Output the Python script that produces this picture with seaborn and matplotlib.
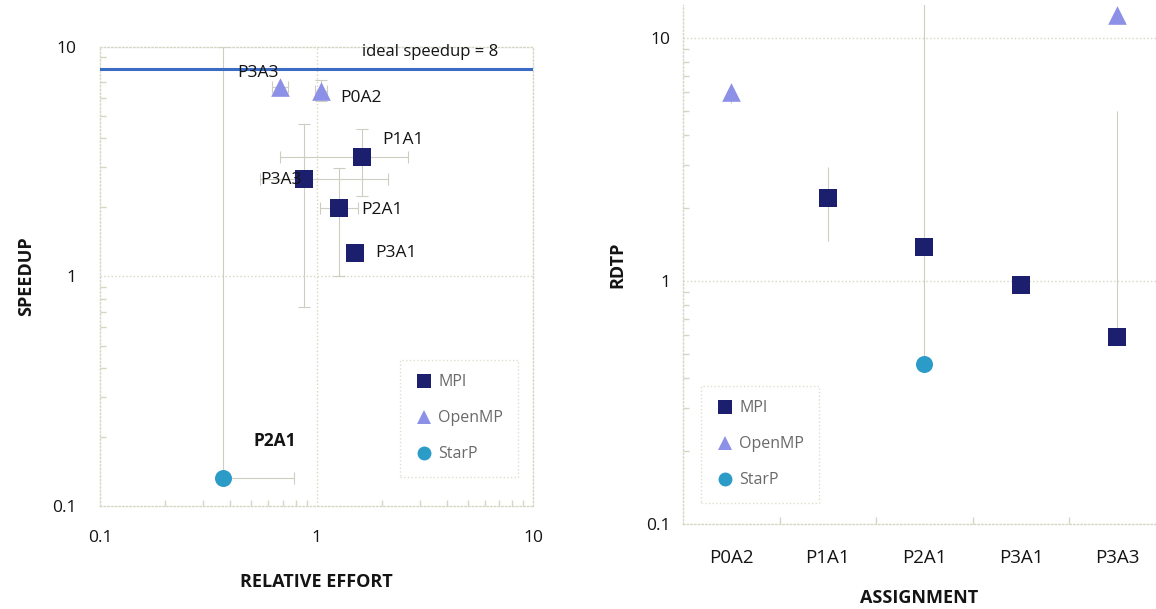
import numpy as np
import pandas as pd
import matplotlib
matplotlib.use("Agg")
import matplotlib.pyplot as plt
from matplotlib.lines import Line2D
from matplotlib.ticker import LogLocator, NullFormatter, FixedLocator, FixedFormatter
import seaborn as sns

sns.set_theme(style="white")
plt.rcParams['font.family'] = ['Open Sans', 'DejaVu Sans']

# ---- Speedup vs. relative effort -------------------------------------------
eff_labels = ["P0A2", "P3A3", "P1A1", "P3A3", "P2A1", "P3A1", "P2A1"]
eff_models = ["OpenMP", "OpenMP", "MPI", "MPI", "MPI", "MPI", "StarP"]
effort     = [1.05, 0.68, 1.62, 0.88, 1.27, 1.50, 0.37]
speedup    = [6.4, 6.7, 3.33, 2.67, 1.98, 1.27, 0.132]
effort_lo  = [0.98, 0.62, 0.68, 0.55, 1.04, 1.50, 0.37]
effort_hi  = [1.12, 0.74, 2.65, 2.14, 1.55, 1.50, 0.79]
speedup_lo = [5.8, 6.7, 2.25, 0.74, 1.00, 1.27, 0.132]
speedup_hi = [7.2, 6.7, 4.40, 4.60, 2.98, 1.27, 10.0]
ideal_speedup = 8

# ---- RDTP by assignment ------------------------------------------------------
assignments = ["P0A2", "P1A1", "P2A1", "P3A1", "P3A3"]
rdtp_assign = ["P0A2", "P1A1", "P2A1", "P3A1", "P3A3", "P2A1", "P3A3"]
rdtp_models = ["OpenMP", "MPI", "MPI", "MPI", "MPI", "StarP", "OpenMP"]
rdtp        = [6.0, 2.2, 1.38, 0.96, 0.59, 0.455, 12.5]
rdtp_lo     = [5.4, 1.46, 1.38, 0.96, 0.59, 0.455, 12.5]
rdtp_hi     = [6.0, 2.94, 1.38, 0.96, 5.0, 20.0, 12.5]

models = ["MPI", "OpenMP", "StarP"]
palette = {"MPI": "#1c1f6e", "OpenMP": "#8c90e6", "StarP": "#2b9bc8"}
markers = {"MPI": "s", "OpenMP": "^", "StarP": "o"}
sizes = {"MPI": 180, "OpenMP": 180, "StarP": 150}

grid_c = "#d6d6c4"
err_c = "#cdcdc2"
text_c = "#141414"

fig = plt.figure(figsize=(11.56, 6.09), dpi=100)
ax1 = fig.add_axes([0.0865, 0.169, 0.3746, 0.754])
ax2 = fig.add_axes([0.591, 0.1396, 0.409, 0.852])

left = pd.DataFrame({"label": eff_labels, "model": eff_models,
                     "effort": effort, "speedup": speedup})
right = pd.DataFrame({"assignment": pd.Categorical(rdtp_assign, categories=assignments),
                      "model": rdtp_models, "rdtp": rdtp})
right["pos"] = right["assignment"].cat.codes


def style_axis(ax):
    for s in ax.spines.values():
        s.set_color(grid_c)
        s.set_linestyle(":")
        s.set_linewidth(1.0)
    ax.tick_params(axis="both", which="both", colors=grid_c, labelcolor=text_c,
                   labelsize=12.5)
    ax.tick_params(axis="y", which="minor", direction="in", length=4, left=True)
    ax.tick_params(axis="y", which="major", direction="in", length=0, left=True, pad=9)


def draw_model_points(ax, data, x, y):
    for m in models:
        sub = data[data["model"] == m]
        sns.scatterplot(data=sub, x=x, y=y, ax=ax, color=palette[m],
                        marker=markers[m], s=sizes[m], linewidth=0,
                        legend=False, zorder=4)


def add_legend(ax, anchor):
    handles = [Line2D([], [], linestyle="none", marker=markers[m], markersize=10,
                      markerfacecolor=palette[m], markeredgewidth=0)
               for m in models]
    leg = ax.legend(handles, models, loc="upper left", bbox_to_anchor=anchor,
                    frameon=True, fontsize=11.5, labelspacing=1.25,
                    handletextpad=0.3, handlelength=1.2, borderpad=0.9,
                    fancybox=False, borderaxespad=0)
    leg.get_frame().set_edgecolor(grid_c)
    leg.get_frame().set_linestyle(":")
    leg.get_frame().set_linewidth(1.0)
    for t in leg.get_texts():
        t.set_color("#6a6a6a")


# ---- left panel --------------------------------------------------------------
ax = ax1
ax.set_xscale("log")
ax.set_yscale("log")
ax.set_xlim(0.1, 10)
ax.set_ylim(0.1, 10)
ax.axvline(1, color=grid_c, ls=":", lw=1.0, zorder=0)
ax.axhline(1, color=grid_c, ls=":", lw=1.0, zorder=0)

xerr = [np.array(effort) - np.array(effort_lo), np.array(effort_hi) - np.array(effort)]
yerr = [np.array(speedup) - np.array(speedup_lo), np.array(speedup_hi) - np.array(speedup)]
ax.errorbar(effort, speedup, xerr=xerr, yerr=yerr, fmt="none", ecolor=err_c,
            elinewidth=0.8, capsize=4, capthick=0.8, zorder=2)

ax.axhline(ideal_speedup, color="#3b6cc4", lw=2.2, zorder=3)
ax.text(0.762, 0.989, f"ideal speedup = {ideal_speedup}", transform=ax.transAxes,
        ha="center", va="center", fontsize=12, color=text_c)

draw_model_points(ax, left, "effort", "speedup")

label_offsets = [(14, -5, "left"), (-16, 10, "center"), (15, 12, "left"),
                 (-2, -1, "right"), (16, -1, "left"), (15, 0, "left"),
                 (37, 27, "center")]
for (lab, xv, yv, m), (dx, dy, ha) in zip(
        zip(eff_labels, effort, speedup, eff_models), label_offsets):
    ax.annotate(lab, (xv, yv), xytext=(dx, dy), textcoords="offset points",
                ha=ha, va="center", fontsize=12.5, color=text_c,
                fontweight="bold" if m == "StarP" else "normal", zorder=5)

ax.xaxis.set_major_locator(FixedLocator([0.1, 1, 10]))
ax.xaxis.set_major_formatter(FixedFormatter(["0.1", "1", "10"]))
ax.xaxis.set_minor_locator(LogLocator(base=10, subs=np.arange(2, 10)))
ax.xaxis.set_minor_formatter(NullFormatter())
ax.yaxis.set_major_locator(FixedLocator([0.1, 1, 10]))
ax.yaxis.set_major_formatter(FixedFormatter(["0.1", "1", "10"]))
ax.yaxis.set_minor_locator(LogLocator(base=10, subs=np.arange(2, 10)))
ax.yaxis.set_minor_formatter(NullFormatter())
style_axis(ax)
ax.tick_params(axis="x", which="minor", direction="in", length=4, bottom=True)
ax.tick_params(axis="x", which="major", direction="in", length=0, bottom=True, pad=17)
ax.tick_params(axis="y", which="major", pad=17)
ax.set_xlabel("RELATIVE EFFORT", fontsize=13, fontweight="bold", labelpad=20, color=text_c)
ax.set_ylabel("SPEEDUP", fontsize=13, fontweight="bold", labelpad=12, color=text_c)
add_legend(ax, (0.693, 0.318))

# ---- right panel -------------------------------------------------------------
ax = ax2
ax.set_yscale("log")
ax.set_ylim(0.1, 13.7)
ax.set_xlim(-0.5, 4.4)
for v in (1, 10):
    ax.axhline(v, color=grid_c, ls=":", lw=1.0, zorder=0)

pos = right["pos"].to_numpy()
r = np.array(rdtp)
ax.errorbar(pos, r, yerr=[r - np.array(rdtp_lo), np.array(rdtp_hi) - r], fmt="none",
            ecolor=err_c, elinewidth=0.8, capsize=0, zorder=2)
draw_model_points(ax, right, "pos", "rdtp")

ax.xaxis.set_major_locator(FixedLocator(range(len(assignments))))
ax.xaxis.set_major_formatter(FixedFormatter(assignments))
ax.xaxis.set_minor_locator(FixedLocator(np.arange(0.5, len(assignments) - 1, 1.0)))
ax.yaxis.set_major_locator(FixedLocator([0.1, 1, 10]))
ax.yaxis.set_major_formatter(FixedFormatter(["0.1", "1", "10"]))
ax.yaxis.set_minor_locator(LogLocator(base=10, subs=np.arange(2, 10)))
ax.yaxis.set_minor_formatter(NullFormatter())
style_axis(ax)
ax.spines["top"].set_visible(False)
ax.spines["right"].set_visible(False)
ax.tick_params(axis="x", which="major", length=0, bottom=True, pad=18, labelsize=13.5)
ax.tick_params(axis="x", which="minor", direction="in", length=5, bottom=True)
ax.set_xlabel("ASSIGNMENT", fontsize=13, fontweight="bold", labelpad=16, color=text_c)
ax.set_ylabel("RDTP", fontsize=13, fontweight="bold", labelpad=14, color=text_c)
add_legend(ax, (0.038, 0.266))

fig.savefig("out.png", dpi=100, facecolor="white")
